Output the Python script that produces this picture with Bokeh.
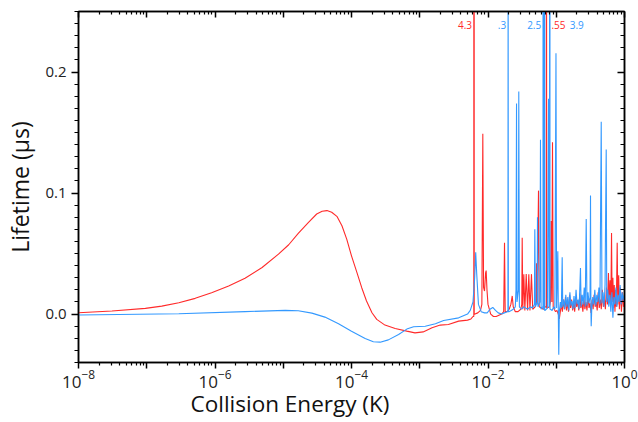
from bokeh.plotting import figure
from bokeh.models import (FixedTicker, LogAxis, LinearAxis, SingleIntervalTicker,
                          PrintfTickFormatter, Title, Range1d, ColumnDataSource)
from bokeh.core.properties import value
from bokeh.embed import file_html
from bokeh.resources import INLINE
import numpy as np

# ---------------- data: (log10 collision energy [K], lifetime [us]) ----------------
red_points = [
    (-8.0, 0.0011), (-7.51, 0.0025), (-7.02, 0.0047), (-6.78, 0.0066), (-6.53, 0.0094),
    (-6.29, 0.0130), (-6.05, 0.0177), (-5.80, 0.0232), (-5.56, 0.0296), (-5.31, 0.0385),
    (-5.07, 0.0495), (-4.92, 0.0573), (-4.78, 0.0667), (-4.63, 0.0758), (-4.51, 0.0827),
    (-4.43, 0.0849), (-4.36, 0.0855), (-4.29, 0.0841), (-4.21, 0.0805), (-4.14, 0.0730),
    (-4.07, 0.0619), (-4.00, 0.0481), (-3.92, 0.0343), (-3.85, 0.0218), (-3.78, 0.0108),
    (-3.70, 0.0011), (-3.63, -0.0044), (-3.51, -0.0091), (-3.36, -0.0119), (-3.19, -0.0141),
    (-3.07, -0.0155), (-2.95, -0.0147), (-2.82, -0.0113), (-2.70, -0.0091), (-2.58, -0.0086),
    (-2.43, -0.0058), (-2.30, -0.005), (-2.25, -0.004), (-2.22, -0.002), (-2.208, -0.002),
    (-2.205, 4.3), (-2.202, 0.000), (-2.19, 0.000), (-2.15, 0.001), (-2.11, 0.003),
    (-2.09, 0.008), (-2.076, 0.149), (-2.065, 0.022), (-2.051, 0.019), (-2.035, 0.034),
    (-2.027, 0.036), (-2.015, 0.020), (-2.00, 0.008), (-1.96, 0.000), (-1.92, -0.002),
    (-1.88, -0.002), (-1.84, -0.001), (-1.80, 0.000), (-1.77, 0.002), (-1.758, 0.059),
    (-1.748, 0.002), (-1.72, 0.002), (-1.69, 0.004), (-1.665, 0.008), (-1.645, 0.015),
    (-1.63, 0.006), (-1.60, 0.002), (-1.56, 0.002), (-1.52, 0.004), (-1.505, 0.008),
    (-1.499, 0.063), (-1.49, 0.004), (-1.475, 0.033), (-1.46, 0.003), (-1.44, 0.033),
    (-1.42, 0.003), (-1.402, 0.033), (-1.385, 0.003), (-1.363, 0.033), (-1.345, 0.004),
    (-1.31, 0.006), (-1.295, 0.010), (-1.289, 0.042), (-1.28, 0.008), (-1.26, 0.102),
    (-1.25, 0.006), (-1.22, 0.005), (-1.19, 0.004), (-1.16, 0.006), (-1.146, 0.006),
    (-1.143, 0.55), (-1.140, 0.005), (-1.133, 0.005), (-1.10, 0.006), (-1.085, 0.010),
    (-1.075, 0.077), (-1.065, 0.010), (-1.055, 0.142), (-1.045, 0.006), (-1.03, 0.004),
    (-1.01, 0.002), (-0.99, 0.003), (-0.97, 0.000), (-0.955, -0.004), (-0.94, 0.002),
    (-0.925, 0.008), (-0.91, 0.002), (-0.895, 0.012), (-0.88, 0.004), (-0.865, 0.014),
    (-0.85, 0.003), (-0.835, 0.010), (-0.82, 0.002), (-0.805, 0.016), (-0.79, 0.005),
    (-0.775, 0.012), (-0.76, 0.003), (-0.745, 0.010), (-0.73, 0.002), (-0.715, 0.014),
    (-0.70, 0.006), (-0.685, 0.011), (-0.67, 0.003), (-0.655, 0.017), (-0.64, 0.005),
    (-0.625, 0.010), (-0.61, 0.002), (-0.595, 0.013), (-0.58, 0.004), (-0.565, 0.010),
    (-0.55, 0.003), (-0.535, 0.015), (-0.52, 0.005), (-0.505, 0.009), (-0.49, 0.001),
    (-0.475, 0.012), (-0.46, 0.004), (-0.445, 0.016), (-0.43, 0.006), (-0.415, 0.010),
    (-0.40, 0.003), (-0.385, 0.018), (-0.37, 0.005), (-0.355, 0.012), (-0.34, 0.004),
    (-0.325, 0.020), (-0.31, 0.006), (-0.295, 0.013), (-0.28, 0.004), (-0.265, 0.022),
    (-0.25, 0.008), (-0.235, 0.034), (-0.225, 0.010), (-0.212, 0.028), (-0.20, 0.008),
    (-0.190, 0.067), (-0.182, 0.010), (-0.17, 0.030), (-0.16, 0.005), (-0.15, 0.024),
    (-0.14, 0.002), (-0.13, 0.020), (-0.12, 0.006), (-0.107, 0.059), (-0.098, 0.008),
    (-0.085, 0.032), (-0.075, 0.004), (-0.06, 0.022), (-0.045, 0.002), (-0.03, 0.018),
    (-0.015, 0.006), (0.0, 0.014),
]

blue_points = [
    (-8.0, -0.0008), (-6.53, 0.0003), (-5.56, 0.0020), (-4.97, 0.0031), (-4.78, 0.0028),
    (-4.58, 0.0008), (-4.39, -0.0025), (-4.19, -0.0080), (-4.00, -0.0141), (-3.80, -0.0202),
    (-3.68, -0.0229), (-3.58, -0.0232), (-3.46, -0.0213), (-3.31, -0.0169), (-3.19, -0.0124),
    (-3.09, -0.0105), (-2.92, -0.0100), (-2.77, -0.0080), (-2.65, -0.0053), (-2.43, -0.0031),
    (-2.30, 0.0), (-2.26, 0.003), (-2.22, 0.010), (-2.195, 0.030), (-2.18, 0.051),
    (-2.165, 0.033), (-2.14, 0.008), (-2.10, 0.002), (-2.05, 0.001), (-2.012, 0.001),
    (-1.97, 0.004), (-1.93, 0.0055), (-1.89, 0.003), (-1.85, 0.001), (-1.80, 0.000),
    (-1.76, 0.001), (-1.72, 0.002), (-1.708, 0.002), (-1.705, 0.3), (-1.702, 0.002),
    (-1.695, 0.002), (-1.66, 0.003), (-1.63, 0.004), (-1.60, 0.006), (-1.59, 0.020),
    (-1.582, 0.174), (-1.575, 0.010), (-1.555, 0.020), (-1.549, 0.184), (-1.54, 0.006),
    (-1.51, 0.004), (-1.48, 0.006), (-1.45, 0.005), (-1.42, 0.004), (-1.38, 0.006),
    (-1.35, 0.005), (-1.32, 0.008), (-1.314, 0.070), (-1.305, 0.006), (-1.28, 0.010),
    (-1.275, 0.080), (-1.268, 0.006), (-1.24, 0.010), (-1.231, 0.144), (-1.222, 0.004),
    (-1.20, 0.006), (-1.194, 0.006), (-1.191, 2.5), (-1.188, 0.004), (-1.182, 0.004),
    (-1.175, 0.004), (-1.172, 0.9), (-1.169, 0.003), (-1.163, 0.003), (-1.13, 0.005),
    (-1.113, 0.178), (-1.105, 0.006), (-1.098, 0.006), (-1.095, 3.9), (-1.092, 0.004),
    (-1.085, 0.004), (-1.06, 0.003), (-1.04, 0.006), (-1.02, 0.004), (-1.004, 0.2155),
    (-0.995, 0.005), (-0.977, 0.052), (-0.970, 0.002), (-0.963, -0.0335), (-0.955, 0.002),
    (-0.94, 0.010), (-0.925, 0.005), (-0.913, 0.047), (-0.905, 0.006), (-0.89, 0.012),
    (-0.875, 0.004), (-0.86, 0.016), (-0.845, 0.006), (-0.83, 0.014), (-0.815, 0.003),
    (-0.80, 0.018), (-0.785, 0.007), (-0.77, 0.011), (-0.755, 0.004), (-0.74, 0.015),
    (-0.725, 0.005), (-0.71, 0.020), (-0.695, 0.008), (-0.68, 0.012), (-0.665, 0.004),
    (-0.645, 0.038), (-0.635, 0.006), (-0.62, 0.016), (-0.605, 0.008), (-0.59, 0.022),
    (-0.575, 0.006), (-0.561, 0.0786), (-0.55, 0.007), (-0.535, 0.018), (-0.52, 0.009),
    (-0.505, 0.014), (-0.498, 0.098), (-0.492, 0.003), (-0.488, -0.010), (-0.48, 0.004),
    (-0.465, 0.014), (-0.45, 0.008), (-0.435, 0.020), (-0.42, 0.007), (-0.405, 0.016),
    (-0.39, 0.010), (-0.375, 0.022), (-0.36, 0.008), (-0.341, 0.159), (-0.33, 0.009),
    (-0.315, 0.018), (-0.30, 0.006), (-0.285, 0.024), (-0.268, 0.136), (-0.26, 0.010),
    (-0.245, 0.020), (-0.23, 0.006), (-0.215, 0.016), (-0.20, 0.002), (-0.185, 0.018),
    (-0.17, -0.003), (-0.155, 0.014), (-0.14, 0.008), (-0.125, 0.022), (-0.11, 0.006),
    (-0.095, 0.016), (-0.08, 0.010), (-0.065, 0.024), (-0.05, 0.008), (-0.035, 0.018),
    (-0.02, 0.011), (-0.005, 0.016), (0.0, 0.012),
]

# off-scale peak annotations (text, log10 energy of the peak, series)
peak_labels = ["4.3", ".3", "2.5", ".55", "3.9"]
peak_label_log_e = [-2.205, -1.705, -1.191, -1.143, -1.095]
peak_label_series = ["red", "blue", "blue", "red", "blue"]

x_major = [1e-8, 1e-7, 1e-6, 1e-5, 1e-4, 1e-3, 1e-2, 1e-1, 1e0]
x_unlabeled = [1e-7, 1e-5, 1e-3, 1e-1]

# ---------------- styling ----------------
RED = "#ff2a2a"
BLUE = "#3399ff"
FONT = "Open Sans"

p = figure(width=638, height=422, x_axis_type="log",
           x_range=Range1d(1e-8, 1.0), y_range=Range1d(-0.04, 0.25),
           output_backend="svg", toolbar_location=None,
           min_border_left=78, min_border_right=14, min_border_top=11, min_border_bottom=60)
p.grid.visible = False
p.outline_line_color = "black"
p.outline_line_width = 1.5
p.background_fill_color = "white"
p.border_fill_color = "white"

red_le, red_val = zip(*red_points)
blue_le, blue_val = zip(*blue_points)
p.line(10 ** np.array(red_le), list(red_val), line_color=RED, line_width=1.1)
p.line(10 ** np.array(blue_le), list(blue_val), line_color=BLUE, line_width=1.1)

# peak labels
offsets = {".55": 5, "3.9": 20}
lab_x, lab_txt, lab_col, lab_align, lab_off = [], [], [], [], []
for t, le, s in zip(peak_labels, peak_label_log_e, peak_label_series):
    lab_x.append(10 ** le)
    lab_txt.append(t)
    lab_col.append(RED if s == "red" else BLUE)
    if t in offsets:
        lab_align.append("left")
        lab_off.append(offsets[t])
    else:
        lab_align.append("right")
        lab_off.append(-2)
src = ColumnDataSource(dict(x=lab_x, y=[0.239] * len(lab_x), text=lab_txt, color=lab_col,
                            align=lab_align, off=lab_off))
p.text(x="x", y="y", text="text", text_color="color", text_align="align", x_offset="off",
       text_baseline="middle", text_font=value(FONT), text_font_size="10px", source=src)

minor = [m * 10.0 ** d for d in range(-8, 0) for m in range(2, 10)]


def style_common(ax):
    ax.axis_line_width = 1.5
    ax.axis_line_color = "black"
    ax.major_tick_line_width = 1.5
    ax.minor_tick_line_width = 1.2
    ax.major_tick_line_color = "black"
    ax.minor_tick_line_color = "black"


def set_ticks(ax, outward, major_len, minor_len):
    if outward:
        ax.major_tick_out, ax.major_tick_in = major_len, 0
        ax.minor_tick_out, ax.minor_tick_in = minor_len, 0
    else:
        ax.major_tick_out, ax.major_tick_in = 0, major_len
        ax.minor_tick_out, ax.minor_tick_in = 0, minor_len


def hide_labels(ax):
    ax.major_label_text_font_size = "2px"
    ax.major_label_text_alpha = 0
    ax.major_label_standoff = 0


xb = p.xaxis[0]
xb.ticker = FixedTicker(ticks=x_major, minor_ticks=minor)
style_common(xb)
set_ticks(xb, True, 6, 3)
xb.major_label_overrides = {v: " " for v in x_unlabeled}
xb.major_label_text_font = FONT
xb.major_label_text_font_size = "17px"
xb.major_label_text_color = "#222222"
xb.major_label_standoff = 1

yl = p.yaxis[0]
yl.ticker = SingleIntervalTicker(interval=0.1, num_minor_ticks=10)
style_common(yl)
set_ticks(yl, True, 7, 4)
yl.formatter = PrintfTickFormatter(format="%.1f")
yl.major_label_text_font = FONT
yl.major_label_text_font_size = "15px"
yl.major_label_text_color = "#222222"
yl.major_label_standoff = 5
yl.axis_label = "Lifetime (\u03bcs)"
yl.axis_label_text_font = FONT
yl.axis_label_text_font_size = "23px"
yl.axis_label_text_font_style = "normal"
yl.axis_label_text_color = "#111111"
yl.axis_label_standoff = 6

xt = LogAxis(ticker=FixedTicker(ticks=x_major, minor_ticks=minor))
style_common(xt)
set_ticks(xt, False, 6, 3)
hide_labels(xt)
p.add_layout(xt, "above")

yr = LinearAxis(ticker=SingleIntervalTicker(interval=0.1, num_minor_ticks=10))
style_common(yr)
set_ticks(yr, False, 7, 4)
hide_labels(yr)
p.add_layout(yr, "right")

p.add_layout(Title(text="Collision Energy (K)", align="left", offset=112,
                   vertical_align="top", text_font=FONT, text_font_size="22.5px",
                   text_font_style="normal", text_color="#111111", standoff=-16), "below")

open("out.html", "w").write(file_html(p, INLINE))
